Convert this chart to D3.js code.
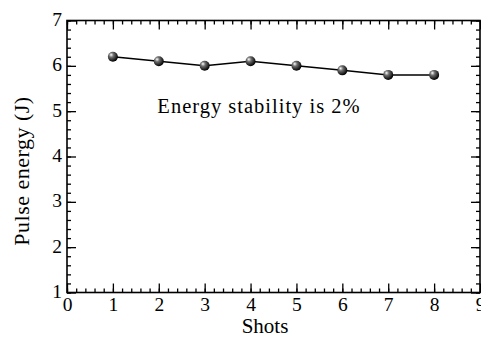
<!DOCTYPE html>
<html>
<head>
<meta charset="utf-8">
<script src="https://cdn.jsdelivr.net/npm/d3@7"></script>
<style>
  body { margin: 0; background: #fff; }
  svg text { font-family: "Liberation Serif", "DejaVu Serif", serif; fill: #000; }
</style>
</head>
<body>
<div id="chart"></div>
<script>
// data
const shots = [1, 2, 3, 4, 5, 6, 7, 8];
const energy = [6.2, 6.1, 6.0, 6.1, 6.0, 5.9, 5.8, 5.8];
const xTicks = [0, 1, 2, 3, 4, 5, 6, 7, 8, 9];
const yTicks = [1, 2, 3, 4, 5, 6, 7];
const note = "Energy stability is 2%";

const width = 481, height = 338;
const margin = {left: 67, right: 1, top: 20.5, bottom: 45.5};

const svg = d3.select("#chart").append("svg")
  .attr("width", width)
  .attr("height", height);

const x = d3.scaleLinear().domain([0, 9]).range([margin.left, width - margin.right]);
const y = d3.scaleLinear().domain([1, 7]).range([height - margin.bottom, margin.top]);

// sphere-like marker shading
const grad = svg.append("defs").append("radialGradient")
  .attr("id", "ball")
  .attr("cx", "0.38").attr("cy", "0.35").attr("r", "0.65")
  .attr("fx", "0.32").attr("fy", "0.3");
grad.append("stop").attr("offset", "0%").attr("stop-color", "#ffffff");
grad.append("stop").attr("offset", "35%").attr("stop-color", "#707070");
grad.append("stop").attr("offset", "100%").attr("stop-color", "#000000");

const minorX = d3.range(0, 9.001, 0.2);
const minorY = d3.range(1, 7.001, 0.2);

// ticks on all four sides, pointing inward
svg.append("g")
  .attr("transform", `translate(0,${y(1)})`)
  .call(d3.axisBottom(x).tickValues(minorX).tickSize(-4).tickFormat(""))
  .call(g => g.select(".domain").remove());
svg.append("g")
  .attr("transform", `translate(0,${y(1)})`)
  .call(d3.axisBottom(x).tickValues(xTicks).tickSize(-9).tickPadding(12).tickFormat(d3.format("d")))
  .call(g => g.select(".domain").remove())
  .call(g => g.selectAll("text").attr("font-size", 19.5).attr("dy", "0.35em"));
svg.append("g")
  .attr("transform", `translate(0,${y(7)})`)
  .call(d3.axisTop(x).tickValues(minorX).tickSize(-4).tickFormat(""))
  .call(g => g.select(".domain").remove());
svg.append("g")
  .attr("transform", `translate(0,${y(7)})`)
  .call(d3.axisTop(x).tickValues(xTicks).tickSize(-9).tickFormat(""))
  .call(g => g.select(".domain").remove());

svg.append("g")
  .attr("transform", `translate(${x(0)},0)`)
  .call(d3.axisLeft(y).tickValues(minorY).tickSize(-4).tickFormat(""))
  .call(g => g.select(".domain").remove());
svg.append("g")
  .attr("transform", `translate(${x(0)},0)`)
  .call(d3.axisLeft(y).tickValues(yTicks).tickSize(-9).tickPadding(5).tickFormat(d3.format("d")))
  .call(g => g.select(".domain").remove())
  .call(g => g.selectAll("text").attr("font-size", 19.5).attr("dy", "0.25em"));
svg.append("g")
  .attr("transform", `translate(${x(9)},0)`)
  .call(d3.axisRight(y).tickValues(minorY).tickSize(-4).tickFormat(""))
  .call(g => g.select(".domain").remove());
svg.append("g")
  .attr("transform", `translate(${x(9)},0)`)
  .call(d3.axisRight(y).tickValues(yTicks).tickSize(-9).tickFormat(""))
  .call(g => g.select(".domain").remove());

svg.selectAll(".tick line").attr("stroke", "#000").attr("stroke-width", 1.3);

// frame
svg.append("rect")
  .attr("x", x(0)).attr("y", y(7))
  .attr("width", x(9) - x(0)).attr("height", y(1) - y(7))
  .attr("fill", "none").attr("stroke", "#000").attr("stroke-width", 1.6);

const pts = shots.map((s, i) => [s, energy[i]]);

svg.append("path")
  .datum(pts)
  .attr("fill", "none")
  .attr("stroke", "#000")
  .attr("stroke-width", 1.5)
  .attr("d", d3.line().x(d => x(d[0])).y(d => y(d[1])));

svg.selectAll(".pt")
  .data(pts)
  .enter()
  .append("circle")
  .attr("cx", d => x(d[0]))
  .attr("cy", d => y(d[1]))
  .attr("r", 5)
  .attr("fill", "url(#ball)");

svg.append("text")
  .attr("x", 259).attr("y", 113)
  .attr("text-anchor", "middle")
  .attr("font-size", 20.5)
  .attr("letter-spacing", 1)
  .text(note);

svg.append("text")
  .attr("x", 265).attr("y", 333)
  .attr("text-anchor", "middle")
  .attr("font-size", 21)
  .text("Shots");

svg.append("text")
  .attr("transform", "translate(29,171) rotate(-90)")
  .attr("text-anchor", "middle")
  .attr("font-size", 22)
  .attr("letter-spacing", 0.5)
  .text("Pulse energy (J)");
</script>
</body>
</html>
